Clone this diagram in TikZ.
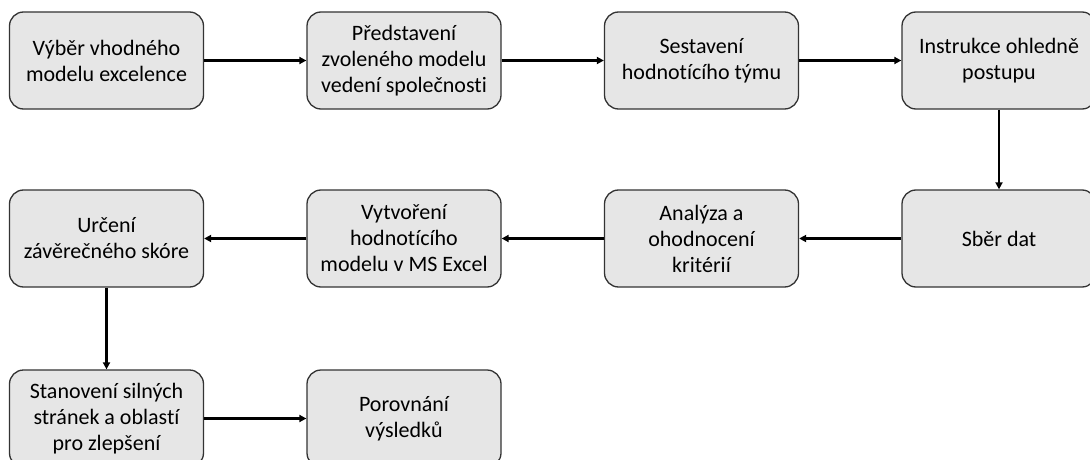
\documentclass[tikz,border=0pt]{standalone}
\usepackage{fontspec}
\setmainfont{Carlito}[Ligatures=NoCommon]
\usetikzlibrary{arrows.meta}
\definecolor{boxfill}{HTML}{E6E6E6}
\definecolor{boxline}{HTML}{333333}
\begin{document}
\begin{tikzpicture}[x=1pt,y=-1pt,
  stepbox/.style={draw=boxline, fill=boxfill, line width=1.3pt,
    rounded corners=14pt, minimum width=194pt, minimum height=97pt,
    align=center, inner sep=0pt, font=\fontsize{22}{26}\selectfont},
  flow/.style={line width=2.2pt, -{Triangle[length=7pt,width=7pt]}}]
\useasboundingbox (0,0) rectangle (1090,460);
\clip (0,0) rectangle (1090,460);

% first row, left to right
\node[stepbox] (a1) at (106.5,60.5) {Výběr vhodného\\modelu excelence};
\node[stepbox] (a2) at (404,60.5) {Představení\\zvoleného modelu\\vedení společnosti};
\node[stepbox] (a3) at (701.5,60.5) {Sestavení\\hodnotícího týmu};
\node[stepbox] (a4) at (999,60.5) {Instrukce ohledně\\postupu};

% second row, right to left
\node[stepbox] (b4) at (999,238.5) {Sběr dat};
\node[stepbox] (b3) at (701.5,238.5) {Analýza a\\ohodnocení\\kritérií};
\node[stepbox] (b2) at (404,238.5) {Vytvoření\\hodnotícího\\modelu v MS Excel};
\node[stepbox] (b1) at (106.5,238.5) {Určení\\závěrečného skóre};

% third row
\node[stepbox] (c1) at (106.5,418.5) {Stanovení silných\\stránek a oblastí\\pro zlepšení};
\node[stepbox] (c2) at (404,418.5) {Porovnání\\výsledků};

\draw[flow] (a1) -- (a2);
\draw[flow] (a2) -- (a3);
\draw[flow] (a3) -- (a4);
\draw[flow] (a4) -- (b4);
\draw[flow] (b4) -- (b3);
\draw[flow] (b3) -- (b2);
\draw[flow] (b2) -- (b1);
\draw[flow] (b1) -- (c1);
\draw[flow] (c1) -- (c2);
\end{tikzpicture}
\end{document}
